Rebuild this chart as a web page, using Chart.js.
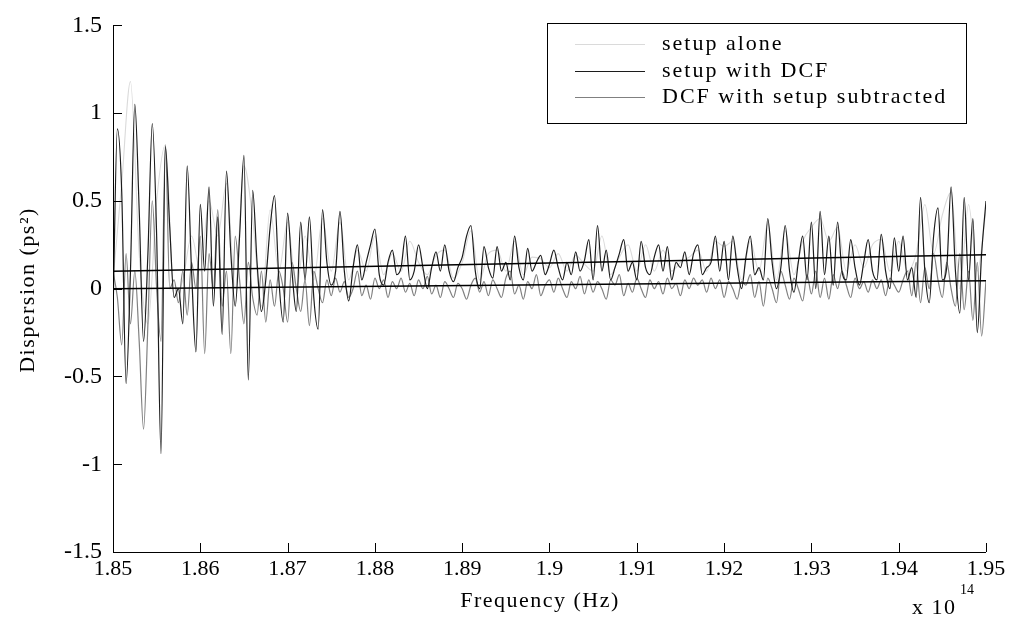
<!DOCTYPE html>
<html>
<head>
<meta charset="utf-8">
<script src="https://cdn.jsdelivr.net/npm/chart.js@4.4.1/dist/chart.umd.min.js"></script>
<style>
  html, body { margin: 0; padding: 0; background: #fff; }
  #wrap { width: 1010px; height: 622px; }
</style>
</head>
<body>
<div id="wrap"><canvas id="chart" width="1010" height="622"></canvas></div>
<script>
// frequency grid, in units of 1e14 Hz
const freqStart = 1.85;
const freqStep = 0.0005;
const setupAloneStep = 0.001;

// setup with DCF (dark trace), one value per 0.0005 step
const setupWithDcf = [
  -0.15, 0.91, 0.55, -0.54, 0.1, 1.05, 0.45, -0.3, 0.2, 0.94,
  0.3, -0.94, 0.81, 0.35, -0.05, 0.0, -0.2, 0.70, 0.1, -0.36,
  0.48, 0.1, 0.58, -0.1, 0.41, -0.26, 0.67, 0.2, -0.1, 0.3,
  0.76, -0.52, 0.56, 0.15, -0.13, 0.05, 0.35, 0.53, 0.05, -0.19,
  0.43, 0.1, -0.13, 0.38, 0.05, 0.41, -0.05, -0.23, 0.45, 0.15,
  0.02, 0.1, 0.44, 0.1, -0.07, 0.12, 0.25, 0.05, 0.15, 0.25,
  0.34, 0.08, 0.02, 0.15, 0.22, 0.08, 0.12, 0.30, 0.05, 0.1,
  0.25, 0.12, 0.0, 0.12, 0.21, 0.1, 0.25, 0.1, 0.04, 0.12,
  0.18, 0.30, 0.36, 0.1, 0.0, 0.24, 0.12, 0.06, 0.24, 0.1,
  0.15, 0.05, 0.30, 0.12, 0.05, 0.23, 0.1, 0.15, 0.19, 0.08,
  0.14, 0.22, 0.12, 0.05, 0.15, 0.08, 0.21, 0.1, 0.16, 0.28,
  0.05, 0.36, 0.1, 0.22, 0.05, 0.12, 0.2, 0.28, 0.1, 0.15,
  0.05, 0.27, 0.12, 0.08, 0.18, 0.25, 0.1, 0.24, 0.05, 0.15,
  0.12, 0.21, 0.08, 0.2, 0.25, 0.08, 0.12, 0.15, 0.30, 0.1,
  0.27, 0.05, 0.30, 0.12, 0.0, 0.18, 0.30, 0.08, 0.12, 0.05,
  0.40, 0.15, 0.0, 0.12, 0.36, 0.1, -0.02, 0.15, 0.30, 0.05,
  0.38, 0.0, 0.44, 0.08, 0.30, 0.02, 0.38, 0.1, 0.05, 0.28,
  0.12, 0.02, 0.15, 0.28, 0.1, 0.05, 0.31, 0.1, 0.0, 0.29,
  0.1, 0.30, 0.05, 0.12, -0.05, 0.52, 0.1, -0.08, 0.3, 0.46,
  0.05, 0.12, 0.58, 0.1, -0.14, 0.52, 0.05, 0.40, -0.25, 0.2,
  0.50
];

// DCF with setup subtracted (grey trace), same grid
const dcfSubtracted = [
  0.1, -0.05, -0.32, 0.2, -0.2, 0.1, -0.3, -0.80, -0.2, 0.5,
  0.0, -0.3, 0.82, 0.0, 0.05, -0.08, 0.1, -0.15, 0.15, 0.0,
  0.3, -0.37, 0.2, 0.0, 0.45, -0.1, 0.1, -0.37, 0.3, 0.05,
  -0.2, 0.15, -0.05, -0.15, 0.1, -0.19, 0.05, -0.1, 0.1, 0.0,
  -0.19, 0.15, 0.0, -0.13, 0.05, -0.21, 0.1, 0.0, -0.08, 0.05,
  -0.04, 0.06, -0.02, 0.04, -0.05, 0.0, 0.1, -0.04, 0.02, -0.06,
  0.06, 0.0, 0.05, -0.05, 0.04, 0.0, 0.06, -0.02, 0.03, -0.04,
  0.05, 0.0, 0.07, -0.03, 0.02, -0.05, 0.04, 0.0, -0.05, 0.03,
  0.0, -0.06, 0.02, 0.06, -0.02, 0.04, -0.04, 0.05, 0.0, -0.05,
  0.06, 0.1, -0.03, 0.02, -0.06, 0.04, 0.0, 0.08, -0.04, 0.02,
  0.05, -0.02, 0.06, 0.0, -0.05, 0.04, 0.0, 0.07, -0.03, 0.05,
  -0.02, 0.04, 0.0, -0.06, 0.05, 0.02, 0.08, -0.04, 0.03, -0.02,
  0.06, 0.0, -0.05, 0.05, 0.0, 0.04, -0.03, 0.06, 0.0, 0.03,
  -0.04, 0.05, 0.0, 0.06, 0.02, 0.05, -0.02, 0.06, 0.0, 0.05,
  -0.05, 0.04, 0.0, -0.06, 0.04, 0.02, 0.08, -0.05, 0.04, -0.1,
  0.06, 0.0, -0.08, 0.1, 0.02, -0.06, 0.06, 0.0, -0.07, 0.08,
  -0.03, 0.1, -0.05, 0.06, -0.06, 0.08, 0.0, 0.1, 0.02, -0.05,
  0.06, 0.0, 0.04, -0.02, 0.05, 0.0, 0.05, -0.04, 0.06, 0.02,
  -0.02, 0.05, 0.1, -0.04, 0.15, -0.08, 0.12, 0.0, 0.2, 0.05,
  -0.05, 0.15, 0.0, -0.1, 0.2, -0.12, 0.1, -0.18, 0.15, -0.27,
  0.05
];

// setup alone (faint trace), one value per 0.001 step
const setupAlone = [
  0.05, 0.6, 1.18, 0.2, -0.2, 0.5, 0.82, -0.05, 0.05, 0.3,
  0.1, 0.5, 0.3, 0.6, 0.0, 0.7, 0.4, -0.1, 0.45, 0.1,
  0.38, 0.0, 0.3, 0.05, 0.4, 0.1, 0.38, 0.05, 0.22, 0.1,
  0.3, 0.08, 0.2, 0.1, 0.27, 0.15, 0.08, 0.19, 0.22, 0.06,
  0.15, 0.33, 0.05, 0.2, 0.22, 0.1, 0.27, 0.08, 0.18, 0.17,
  0.12, 0.2, 0.1, 0.19, 0.14, 0.1, 0.3, 0.08, 0.18, 0.25,
  0.1, 0.25, 0.1, 0.22, 0.1, 0.15, 0.18, 0.22, 0.1, 0.27,
  0.24, 0.27, 0.05, 0.27, 0.1, 0.37, 0.05, 0.33, 0.08, 0.27,
  0.35, 0.4, 0.27, 0.35, 0.1, 0.25, 0.12, 0.25, 0.28, 0.1,
  0.27, 0.1, 0.2, 0.48, 0.2, 0.42, 0.55, 0.0, 0.48, 0.1,
  0.45
];

// straight fit lines
const fitFreq = [1.85, 1.95];
const fitUpper = [0.10, 0.194];
const fitLower = [0.0, 0.045];

const seriesNames = ['setup alone', 'setup with DCF', 'DCF with setup subtracted'];
const FONT = '"Liberation Serif", "DejaVu Serif", serif';

function toPoints(values, step) {
  return values.map((v, i) => ({ x: freqStart + i * step, y: v }));
}

const annot = {
  id: 'annot',
  afterDraw(chart) {
    const { ctx, chartArea: a, scales: { x, y } } = chart;
    ctx.save();
    ctx.strokeStyle = '#000';
    ctx.lineWidth = 1;
    ctx.beginPath();
    ctx.moveTo(a.left + 0.5, a.top);
    ctx.lineTo(a.left + 0.5, a.bottom + 0.5);
    ctx.lineTo(a.right, a.bottom + 0.5);
    x.ticks.forEach(t => {
      const px = Math.round(x.getPixelForValue(t.value)) + 0.5;
      ctx.moveTo(px, a.bottom);
      ctx.lineTo(px, a.bottom - 9);
    });
    y.ticks.forEach(t => {
      const py = Math.round(y.getPixelForValue(t.value)) + 0.5;
      ctx.moveTo(a.left, py);
      ctx.lineTo(a.left + 9, py);
    });
    ctx.stroke();

    // axis titles
    ctx.fillStyle = '#000';
    ctx.font = '22px ' + FONT;
    ctx.letterSpacing = '1.5px';
    ctx.textAlign = 'center';
    ctx.textBaseline = 'middle';
    ctx.fillText('Frequency (Hz)', 540, 601);
    ctx.save();
    ctx.translate(28, 290);
    ctx.rotate(-Math.PI / 2);
    ctx.fillText('Dispersion (ps²)', 0, 0);
    ctx.restore();
    ctx.textAlign = 'left';
    ctx.fillText('x 10', 912, 608);
    ctx.letterSpacing = '0px';
    ctx.font = '14px ' + FONT;
    ctx.fillText('14', 960, 590);

    // legend box
    const box = { left: 547, top: 23, right: 966, bottom: 123 };
    ctx.fillStyle = '#fff';
    ctx.fillRect(box.left, box.top, box.right - box.left, box.bottom - box.top);
    ctx.strokeStyle = '#000';
    ctx.lineWidth = 1;
    ctx.strokeRect(box.left + 0.5, box.top + 0.5, box.right - box.left, box.bottom - box.top);
    const rows = [44, 71, 97];
    ctx.font = '22px ' + FONT;
    ctx.letterSpacing = '2px';
    ctx.fillStyle = '#000';
    chart.data.datasets.slice(0, 3).forEach((ds, i) => {
      ctx.strokeStyle = ds.borderColor;
      ctx.lineWidth = 1.2;
      ctx.beginPath();
      ctx.moveTo(575, rows[i] + 0.5);
      ctx.lineTo(645, rows[i] + 0.5);
      ctx.stroke();
      ctx.fillText(ds.label, 662, rows[i]);
    });
    ctx.restore();
  }
};

new Chart(document.getElementById('chart'), {
  type: 'line',
  data: {
    datasets: [
      { label: seriesNames[0], data: toPoints(setupAlone, setupAloneStep), borderColor: '#dadada', borderWidth: 1.1, order: 3 },
      { label: seriesNames[1], data: toPoints(setupWithDcf, freqStep), borderColor: '#1c1c1c', borderWidth: 1.2, order: 1 },
      { label: seriesNames[2], data: toPoints(dcfSubtracted, freqStep), borderColor: '#808080', borderWidth: 1.2, order: 2 },
      { label: 'fit1', data: fitFreq.map((f, i) => ({ x: f, y: fitUpper[i] })), borderColor: '#000', borderWidth: 1.5, order: 0, cubicInterpolationMode: 'default' },
      { label: 'fit2', data: fitFreq.map((f, i) => ({ x: f, y: fitLower[i] })), borderColor: '#000', borderWidth: 1.5, order: 0, cubicInterpolationMode: 'default' }
    ]
  },
  options: {
    responsive: false,
    animation: false,
    devicePixelRatio: 1,
    layout: { padding: { top: 21, right: 24, left: 0, bottom: 0 } },
    elements: { point: { radius: 0 }, line: { cubicInterpolationMode: 'monotone', fill: false } },
    plugins: { legend: { display: false }, tooltip: { enabled: false } },
    scales: {
      x: {
        type: 'linear', min: 1.85, max: 1.95,
        afterFit: s => { s.height = 70; },
        grid: { display: false, drawTicks: false },
        border: { display: false },
        ticks: {
          stepSize: 0.01, padding: 4, color: '#000', maxRotation: 0, autoSkip: false,
          font: { family: FONT, size: 22 },
          callback: v => String(parseFloat(v.toFixed(2)))
        }
      },
      y: {
        min: -1.5, max: 1.5,
        afterFit: s => { s.width = 113; },
        grid: { display: false, drawTicks: false },
        border: { display: false },
        ticks: {
          stepSize: 0.5, padding: 11, color: '#000',
          font: { family: FONT, size: 24 },
          callback: v => String(parseFloat(v.toFixed(1)))
        }
      }
    }
  },
  plugins: [annot]
});
</script>
</body>
</html>
